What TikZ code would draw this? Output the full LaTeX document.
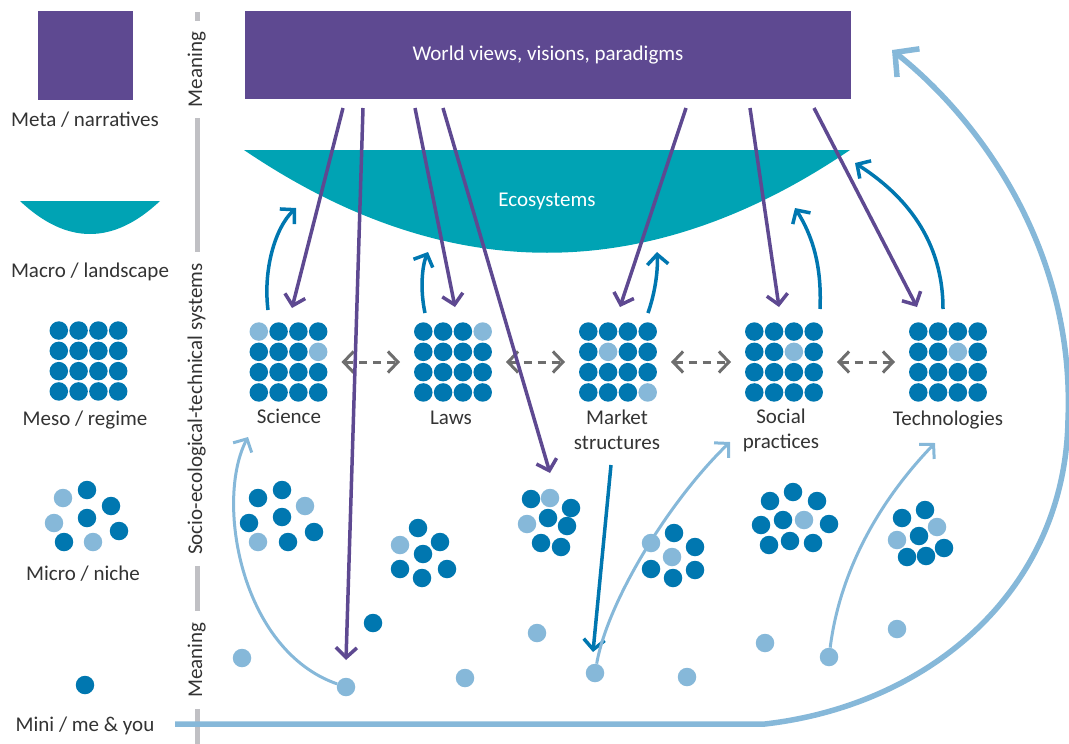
\documentclass[tikz,border=0pt]{standalone}
\usepackage{fontspec}
\setmainfont{Carlito}
\usepackage{tikz}
\usetikzlibrary{arrows.meta}

\definecolor{wvpurple}{RGB}{94,73,145}
\definecolor{ecoteal}{RGB}{0,163,180}
\definecolor{dotblue}{RGB}{0,119,176}
\definecolor{liteblue}{RGB}{134,184,217}
\definecolor{dashgray}{RGB}{110,110,110}
\definecolor{bargray}{RGB}{192,192,196}
\definecolor{txtgray}{RGB}{51,51,51}

\begin{document}
\begin{tikzpicture}[x=1pt, y=-1pt,
			>={Straight Barb[length=10pt,width=21pt]},   %offene Pfeilspitzen
			font=\fontsize{21}{25}\selectfont, text=txtgray,
			dk/.style={circle, fill=dotblue, inner sep=0pt, minimum size=18.5pt},
			lt/.style={circle, fill=liteblue, inner sep=0pt, minimum size=18.5pt},
			lbl/.style={anchor=base, inner sep=0pt},
			side/.style={rotate=90, anchor=base, inner xsep=11pt, inner ysep=0pt},
			bar/.style={draw=bargray, line width=5pt},
			purp/.style={->, draw=wvpurple, line width=3.5pt},
			rise/.style={->, draw=dotblue, line width=3.5pt},
			feed/.style={->, draw=liteblue, line width=3pt},
			link/.style={<->, draw=dashgray, line width=3pt, dash pattern=on 8pt off 6pt, shorten <=53pt, shorten >=53pt}]
			\useasboundingbox (0,0) rectangle (1069,744);
			%Legende
			\fill[wvpurple] (38,11) rectangle (133,100);
			\fill[ecoteal] (20,201) -- (160,201) .. controls (113.3,245) and (66.7,245) .. cycle;
			\node[lbl] (metalbl) at (85,126) {Meta / narratives};
			\node[lbl] (macrolbl) at (90,277) {Macro / landscape};
			\node[lbl] (mesolbl) at (85,425) {Meso / regime};
			\node[lbl] (microlbl) at (83,580) {Micro / niche};
			\node[lbl] (minilbl) at (85,731) {Mini / me \& you};
			\foreach \px/\py/\st [count=\k] in {63/498/lt, 87/490/dk, 111/506/dk, 54/523/lt,
				87/518/dk, 119/531/dk, 64/542/dk, 93/542/lt}
				\node[\st] (leg\k) at (\px,\py) {};
			\node[dk] (legmini) at (85,685) {};
			%Trennlinie mit Beschriftung
			\coordinate (bartop) at (197,12);
			\coordinate (barbot) at (197,744);
			\node[side] (mean1) at (202,69.5) {Meaning};
			\node[side] (sys) at (202,409) {Socio-ecological-technical systems};
			\node[side] (mean2) at (202,660) {Meaning};
			\draw[bar] (bartop) -- (bartop |- mean1.east);
			\draw[bar] (bartop |- mean1.west) -- (bartop |- sys.east);
			\draw[bar] (bartop |- sys.west) -- (bartop |- mean2.east);
			\draw[bar] (bartop |- mean2.west) -- (barbot);
			%Weltbilder und Oekosysteme
			\node[fill=wvpurple, text=white, minimum width=606pt, minimum height=88pt, inner sep=0pt] (wv) at (548,55) {World views, visions, paradigms};
			\fill[ecoteal] (244,150) -- (850,150) .. controls (648,287) and (446,287) .. cycle;
			\node[lbl, text=white] (eco) at (547,206) {Ecosystems};
			%Regime-Raster
			\foreach \g/\gx/\gy/\la/\lb in {leg/88.5/361/0/0, sci/288.5/362/1/8, law/453/362/4/0,
				mkt/618/362/6/16, soc/784/362/7/0, tec/948/362/7/0}{
				\coordinate (\g) at (\gx,\gy);
				\foreach \r in {1,...,4}
					\foreach \c in {1,...,4}{
						\pgfmathtruncatemacro{\i}{4*(\r-1)+\c}
						\ifnum\i=\la\relax\def\st{lt}\else\ifnum\i=\lb\relax\def\st{lt}\else\def\st{dk}\fi\fi
						\node[\st] (\g-\i) at ({\gx+(\c-2.5)*19.8},{\gy+(\r-2.5)*20.3}) {};
					}
			}
			\node[lbl] (scilbl) at (289,423) {Science};
			\node[lbl] (lawlbl) at (451,424) {Laws};
			\node[align=center, inner sep=0pt] (mktlbl) at (617,430) {Market\\structures};
			\node[align=center, inner sep=0pt] (soclbl) at (781,430) {Social\\practices};
			\node[lbl] (teclbl) at (948,425) {Technologies};
			\draw[link] (sci) -- (law);
			\draw[link] (law) -- (mkt);
			\draw[link] (mkt) -- (soc);
			\draw[link] (soc) -- (tec);
			%Nischen
			\foreach \px/\py/\st [count=\k] in {258/498/dk, 282/490/dk, 305/506/lt, 249/523/dk, 282/517/dk,
				314/532/dk, 258/542/lt, 288/542/dk,
				418/528/dk, 400/545/lt, 440/542/dk, 423/554/dk, 400/569/dk, 447/569/dk, 422/578/dk,
				531/499/dk, 550/498/lt, 571/508/dk, 527/524/lt, 548/518/dk, 567/526/dk, 541/543/dk, 561/547/dk,
				651/543/lt, 674/533/dk, 695/547/dk, 672/557/lt, 651/569/dk, 695/570/dk, 673/578/dk,
				793/492/dk, 770/501/dk, 817/501/dk, 761/525/dk, 783/520/dk, 804/520/lt, 829/524/dk,
				769/545/dk, 790/541/dk, 813/543/dk,
				902/518/dk, 925/510/dk, 937/527/lt, 897/540/lt, 919/536/dk, 944/548/dk, 907/557/dk, 926/556/dk}
				\node[\st] (nd\k) at (\px,\py) {};
			%Einzelne
			\foreach \px/\py/\st [count=\k] in {242/658/lt, 346/687/lt, 373/623/dk, 465/678/lt, 537/633/lt,
				595/673/lt, 687/677/lt, 765/643/lt, 829/657/lt, 897/629/lt}
				\node[\st] (mini\k) at (\px,\py) {};
			%Pfeile von oben
			\foreach \a/\b/\c/\d [count=\k] in {343/108/292/308, 363/108/346/660, 415/108/455/307,
				443/108/550/473, 686/108/620/307, 750/108/779/307, 814/108/917/307}{
				\coordinate (ps\k) at (\a,\b);
				\coordinate (pe\k) at (\c,\d);
				\draw[purp] (ps\k) -- (pe\k);
			}
			%Pfeile nach oben
			\coordinate (ru1) at (268,310); \coordinate (rt1) at (296,208);
			\coordinate (ru2) at (425,313); \coordinate (rt2) at (428,252);
			\coordinate (ru3) at (648,313); \coordinate (rt3) at (657,252);
			\coordinate (ru4) at (820,309); \coordinate (rt4) at (795,208);
			\coordinate (ru5) at (943,309); \coordinate (rt5) at (855,163);
			\draw[rise] (ru1) .. controls (263,270) and (275,228) .. (rt1);
			\draw[rise] (ru2) .. controls (420,290) and (422,266) .. (rt2);
			\draw[rise] (ru3) .. controls (656,290) and (658,268) .. (rt3);
			\draw[rise] (ru4) .. controls (822,265) and (812,235) .. (rt4);
			\draw[rise] (ru5) .. controls (943,240) and (905,195) .. (rt5);
			\coordinate (ms) at (611,465);
			\coordinate (me) at (593,652);
			\draw[rise] (ms) -- (me);
			%Rueckkopplung
			\coordinate (fb1) at (248,437);
			\coordinate (fb2) at (730,442);
			\coordinate (fb3) at (935,443);
			\draw[feed] (mini2) .. controls (240,650) and (215,500) .. (fb1);
			\draw[feed] (mini6) .. controls (608,600) and (670,500) .. (fb2);
			\draw[feed] (mini9) .. controls (840,570) and (880,500) .. (fb3);
			\coordinate (bigstart) at (175,724);
			\coordinate (bend) at (765,724);
			\coordinate (bigmid) at (1068,420);
			\coordinate (bigend) at (892,50);
			\draw[draw=liteblue, line width=5.5pt, -{Straight Barb[length=17pt,width=36pt]}]
				(bigstart) -- (bend) .. controls (930,705) and (1065,590) .. (bigmid)
				.. controls (1075,250) and (980,120) .. (bigend);
		\end{tikzpicture}
\end{document}
